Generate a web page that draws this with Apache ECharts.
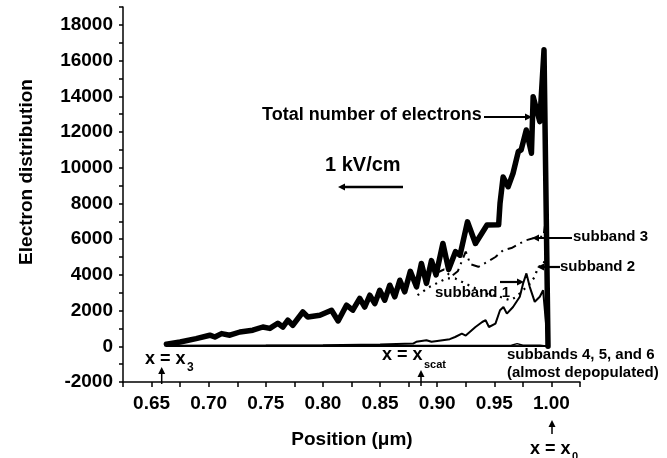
<!DOCTYPE html>
<html>
<head>
<meta charset="utf-8">
<script src="https://cdn.jsdelivr.net/npm/echarts@6/dist/echarts.min.js"></script>
<style>
html,body{margin:0;padding:0;background:#fff;}
#chart{width:667px;height:458px;}
</style>
</head>
<body>
<div id="chart"></div>
<script>
// ---------- data ----------
const xTickLabels = [0.65, 0.70, 0.75, 0.80, 0.85, 0.90, 0.95, 1.00];
const xTicks = [0.625, 0.65, 0.675, 0.70, 0.725, 0.75, 0.775, 0.80, 0.825, 0.85, 0.875, 0.90, 0.925, 0.95, 0.975, 1.00, 1.025];
const yTickLabels = [-2000, 0, 2000, 4000, 6000, 8000, 10000, 12000, 14000, 16000, 18000];
const yTicks = [-2000, -1000, 0, 1000, 2000, 3000, 4000, 5000, 6000, 7000, 8000, 9000, 10000,
                11000, 12000, 13000, 14000, 15000, 16000, 17000, 18000, 19000];

// Total number of electrons
const totalX = [0.663, 0.675, 0.689, 0.701, 0.7054, 0.7113, 0.7185, 0.7273, 0.7386, 0.7474, 0.7535,
  0.7605, 0.7649, 0.7693, 0.7736, 0.7824, 0.7868, 0.7973, 0.8075, 0.8133, 0.8206, 0.8261, 0.8322,
  0.8366, 0.841, 0.8454, 0.8497, 0.8541, 0.8585, 0.8629, 0.8673, 0.8716, 0.8765, 0.8819, 0.8862,
  0.8906, 0.895, 0.899, 0.905, 0.910, 0.916, 0.920, 0.9265, 0.9335, 0.9436, 0.9538, 0.955, 0.9577,
  0.9621, 0.9664, 0.971, 0.9735, 0.978, 0.9825, 0.984, 0.9898, 0.9935, 0.997];
const totalY = [110, 240, 430, 620, 520, 710, 620, 800, 900, 1080, 1000,
  1290, 1080, 1460, 1180, 1920, 1640, 1740, 2020, 1420, 2300, 2020, 2680,
  2200, 2860, 2390, 3140, 2580, 3420, 2770, 3700, 3050, 4200, 3330, 4640,
  3520, 4800, 4000, 5760, 4300, 5300, 5100, 6970, 5760, 6790, 6800, 8000, 9480,
  8935, 9690, 10900, 11000, 12110, 10810, 13980, 12580, 16600, 0];

// Subband 1 (thin solid)
const sub1X = [0.663, 0.70, 0.75, 0.80, 0.85, 0.8789, 0.8817, 0.8906, 0.895, 0.90, 0.911, 0.9157,
  0.9216, 0.925, 0.9335, 0.9394, 0.9424, 0.9453, 0.951, 0.955, 0.958, 0.961, 0.9664, 0.9723,
  0.9752, 0.9781, 0.981, 0.9854, 0.9898, 0.9927, 0.997];
const sub1Y = [20, 30, 40, 60, 100, 150, 250, 340, 250, 300, 400, 520,
  710, 600, 1080, 1360, 1460, 1080, 1270, 2020, 2200, 1830, 2200, 2770,
  3520, 4080, 3330, 2490, 2770, 3140, 0];

// Subband 2 (dotted)
const sub2X = [0.8828, 0.8935, 0.908, 0.9157, 0.925, 0.935, 0.945, 0.955, 0.9635, 0.969, 0.9752,
  0.981, 0.9854, 0.9883, 0.9927, 0.995, 0.997];
const sub2Y = [2860, 3330, 3800, 3800, 3500, 3200, 2900, 2770, 2580, 2750, 3140,
  3500, 3890, 4450, 4540, 5000, 0];

// Subband 3 (dash-dot)
const sub3X = [0.899, 0.906, 0.912, 0.918, 0.925, 0.929, 0.936, 0.9436, 0.951, 0.9577, 0.965,
  0.9723, 0.978, 0.984, 0.9898, 0.993, 0.9944, 0.9965];
const sub3Y = [4100, 4300, 3900, 4200, 5300, 4600, 4450, 4720, 5000, 5380, 5500,
  5760, 5940, 6050, 6130, 6130, 6790, 0];

// Subbands 4, 5 and 6 (almost depopulated)
const sub4X = [0.663, 0.80, 0.90, 0.965, 0.970, 0.975, 0.990, 0.997];
const sub4Y = [40, 40, 50, 60, 150, 60, 60, 0];
const sub5X = [0.663, 0.85, 0.95, 0.997];
const sub5Y = [20, 20, 30, 0];
const sub6X = [0.663, 0.90, 0.997];
const sub6Y = [0, 0, 0];

// ---------- helpers ----------
const FONT = "'Liberation Sans', Arial, Helvetica, sans-serif";
function zip(xs, ys) { return xs.map((x, i) => [x, ys[i]]); }
function lineSeries(name, xs, ys, width, type, z, round) {
  const ls = { color: '#000', width, type };
  if (round) { ls.join = 'round'; ls.cap = 'round'; }
  return {
    name, type: 'line', data: zip(xs, ys), showSymbol: false, symbol: 'none',
    lineStyle: ls, z, silent: true, animation: false
  };
}
function text(str, x, y, size, align, extra) {
  return Object.assign({
    type: 'text', x, y, silent: true,
    style: { text: str, fill: '#000', font: 'bold ' + size + 'px ' + FONT,
             textAlign: align || 'left', textVerticalAlign: 'middle' }
  }, extra || {});
}
function arrow(x1, y1, x2, y2, w) {
  const dx = x2 - x1, dy = y2 - y1, L = Math.hypot(dx, dy);
  const ux = dx / L, uy = dy / L, hl = 7, hw = 3.5;
  const bx = x2 - ux * hl, by = y2 - uy * hl;
  return [
    { type: 'line', silent: true, shape: { x1, y1, x2: bx, y2: by }, style: { stroke: '#000', lineWidth: w || 2 } },
    { type: 'polygon', silent: true, shape: { points: [[x2, y2], [bx - uy * hw, by + ux * hw], [bx + uy * hw, by - ux * hw]] },
      style: { fill: '#000' } }
  ];
}

const chart = echarts.init(document.getElementById('chart'), null, { renderer: 'canvas' });

const axisCommon = {
  axisLine: { show: true, onZero: false, lineStyle: { color: '#000', width: 1.5 } },
  splitLine: { show: false },
};

const option = {
  animation: false,
  backgroundColor: '#fff',
  grid: { left: 123, right: 87, top: 7, bottom: 76, containLabel: false },
  xAxis: Object.assign({
    type: 'value', min: 0.625, max: 1.025, interval: 0.025,
    axisTick: { show: true, customValues: xTicks, length: 5, lineStyle: { color: '#000', width: 1.5 } },
    axisLabel: { customValues: xTickLabels, formatter: v => v.toFixed(2), color: '#000',
                 fontSize: 19, fontWeight: 'bold', fontFamily: FONT, margin: 12 }
  }, axisCommon),
  yAxis: Object.assign({
    type: 'value', min: -2000, max: 19000, interval: 1000,
    axisTick: { show: true, customValues: yTicks, length: 4, lineStyle: { color: '#000', width: 1.5 } },
    axisLabel: { customValues: yTickLabels, formatter: v => String(v), color: '#000',
                 fontSize: 19, fontWeight: 'bold', fontFamily: FONT, margin: 10 }
  }, axisCommon),
  series: [
    lineSeries('subband 6', sub6X, sub6Y, 1.5, 'solid', 2),
    lineSeries('subband 5', sub5X, sub5Y, 1.5, 'solid', 2),
    lineSeries('subband 4', sub4X, sub4Y, 1.5, 'solid', 2),
    lineSeries('subband 3', sub3X, sub3Y, 2, [9, 5, 2, 5], 3),
    lineSeries('subband 2', sub2X, sub2Y, 2.2, [2, 5], 3),
    lineSeries('subband 1', sub1X, sub1Y, 2, 'solid', 3),
    lineSeries('Total number of electrons', totalX, totalY, 5.5, 'solid', 4, true)
  ],
  graphic: [].concat(
    [
      text('Electron distribution', 27, 172, 19, 'center', { rotation: Math.PI / 2 }),
      text('Position (\u03bcm)', 352, 440, 19, 'center'),
      text('Total number of electrons', 262, 115, 18, 'left'),
      text('1 kV/cm', 325, 165, 20, 'left'),
      text('subband 3', 573, 237, 15, 'left'),
      text('subband 2', 560, 267, 15, 'left'),
      text('subband 1', 435, 293, 15, 'left'),
      text('subbands 4, 5, and 6', 507, 355, 15, 'left'),
      text('(almost depopulated)', 507, 373, 15, 'left'),
      text('x = x', 145, 359, 18, 'left'),
      text('3', 187, 368, 12, 'left'),
      text('x = x', 382, 355, 18, 'left'),
      text('scat', 424, 365, 11, 'left'),
      text('x = x', 530, 449, 18, 'left'),
      text('0', 572, 457, 11, 'left')
    ],
    arrow(484, 117, 532, 117, 2.2),
    arrow(403, 187, 338, 187, 2.5),
    arrow(572, 238, 532, 238, 2.2),
    arrow(560, 267, 537, 267, 2.2),
    arrow(500, 282, 524, 282, 2.2),
    arrow(161.7, 384, 161.7, 367, 1.5),
    arrow(421, 386, 421, 370, 1.5),
    arrow(552, 434, 552, 420, 1.5)
  )
};
chart.setOption(option);
</script>
</body>
</html>
